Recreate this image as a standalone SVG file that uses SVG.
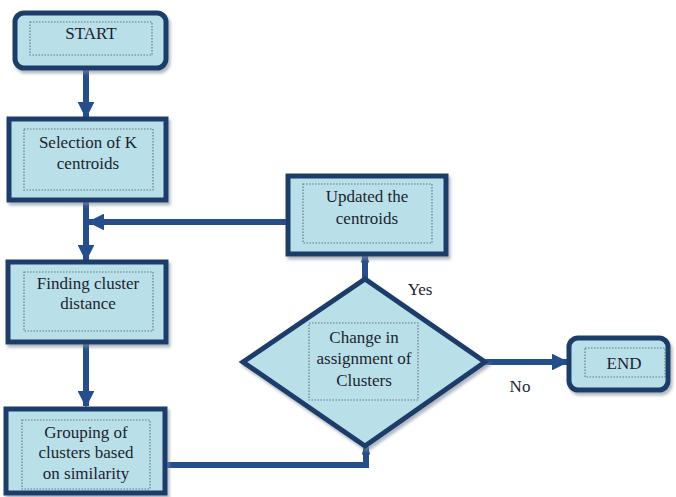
<svg xmlns="http://www.w3.org/2000/svg" width="676" height="497" viewBox="0 0 676 497">
  <defs>
    <marker id="head" viewBox="0 0 10 10" refX="9" refY="5" markerWidth="2.8" markerHeight="2.8" orient="auto" markerUnits="strokeWidth">
      <path d="M0,0 L10,5 L0,10 Z" fill="#244f8c"/>
    </marker>
    <marker id="cap" viewBox="0 0 10 10" refX="9" refY="5" markerWidth="1.4" markerHeight="2.2" orient="auto" markerUnits="strokeWidth">
      <path d="M0,0 L10,3 L10,7 L0,10 Z" fill="#244f8c"/>
    </marker>
    <filter id="shadow" x="-10%" y="-10%" width="120%" height="130%">
      <feDropShadow dx="2" dy="3" stdDeviation="1.5" flood-color="#7a8a99" flood-opacity="0.6"/>
    </filter>
  </defs>
  <style>
    .box { fill: #b9dfe9; stroke: #1d3c6b; stroke-width: 5; filter: url(#shadow); }
    .inner { fill: none; stroke: #6d7a80; stroke-width: 1.2; stroke-dasharray: 1.5 1.5; }
    .link { fill: none; stroke: #244f8c; stroke-width: 6; }
    .lbl { font-size: 17px; fill: #1c1f2e; text-anchor: middle; }
  </style>
  <rect width="676" height="497" fill="#ffffff"/>

  <g font-family="Liberation Serif, Noto Serif, DejaVu Serif, Times New Roman, serif">
  <!-- connectors -->
  <g id="connectors">
    <line class="link" x1="86" y1="68" x2="86" y2="117" marker-end="url(#head)"/>
    <line class="link" x1="86" y1="200" x2="86" y2="260" marker-end="url(#head)"/>
    <line class="link" x1="287" y1="222" x2="89" y2="222" marker-end="url(#head)"/>
    <line class="link" x1="86" y1="342" x2="86" y2="406" marker-end="url(#head)"/>
    <polyline class="link" points="166,465 366,465 366,447" marker-end="url(#cap)"/>
    <line class="link" x1="365" y1="280" x2="365" y2="255" marker-end="url(#cap)"/>
    <line class="link" x1="485" y1="362" x2="567" y2="362" marker-end="url(#head)"/>
    <text class="lbl" x="420" y="295">Yes</text>
    <text class="lbl" x="520" y="392">No</text>
  </g>

  <g id="start">
    <rect class="box" x="15" y="13" width="151" height="55" rx="9"/>
    <rect class="inner" x="30" y="22" width="122" height="33"/>
    <text class="lbl" x="91" y="39">START</text>
  </g>

  <g id="select-k">
    <rect class="box" x="9" y="119" width="157" height="81"/>
    <rect class="inner" x="24" y="129" width="129" height="61"/>
    <text class="lbl" x="88" y="148">Selection of K</text>
    <text class="lbl" x="88" y="169">centroids</text>
  </g>

  <g id="find-distance">
    <rect class="box" x="8" y="262" width="158" height="80"/>
    <rect class="inner" x="24" y="272" width="129" height="59"/>
    <text class="lbl" x="88" y="289">Finding cluster</text>
    <text class="lbl" x="88" y="309">distance</text>
  </g>

  <g id="grouping">
    <rect class="box" x="6" y="409" width="159" height="84"/>
    <rect class="inner" x="22" y="420" width="128" height="69"/>
    <text class="lbl" x="86" y="438">Grouping of</text>
    <text class="lbl" x="86" y="458">clusters based</text>
    <text class="lbl" x="86" y="479">on similarity</text>
  </g>

  <g id="update">
    <rect class="box" x="288" y="176" width="158" height="78"/>
    <rect class="inner" x="303" y="184" width="129" height="59"/>
    <text class="lbl" x="367" y="202">Updated the</text>
    <text class="lbl" x="367" y="224">centroids</text>
  </g>

  <g id="decision">
    <polygon class="box" points="365,279 485,362 365,446 243,362"/>
    <rect class="inner" x="309" y="323" width="109" height="77"/>
    <text class="lbl" x="364" y="343">Change in</text>
    <text class="lbl" x="364" y="364">assignment of</text>
    <text class="lbl" x="364" y="386">Clusters</text>
  </g>

  <g id="end">
    <rect class="box" x="569" y="338" width="99" height="52" rx="9"/>
    <rect class="inner" x="585" y="348" width="80" height="29"/>
    <text class="lbl" x="624" y="369">END</text>
  </g>
  </g>
</svg>
